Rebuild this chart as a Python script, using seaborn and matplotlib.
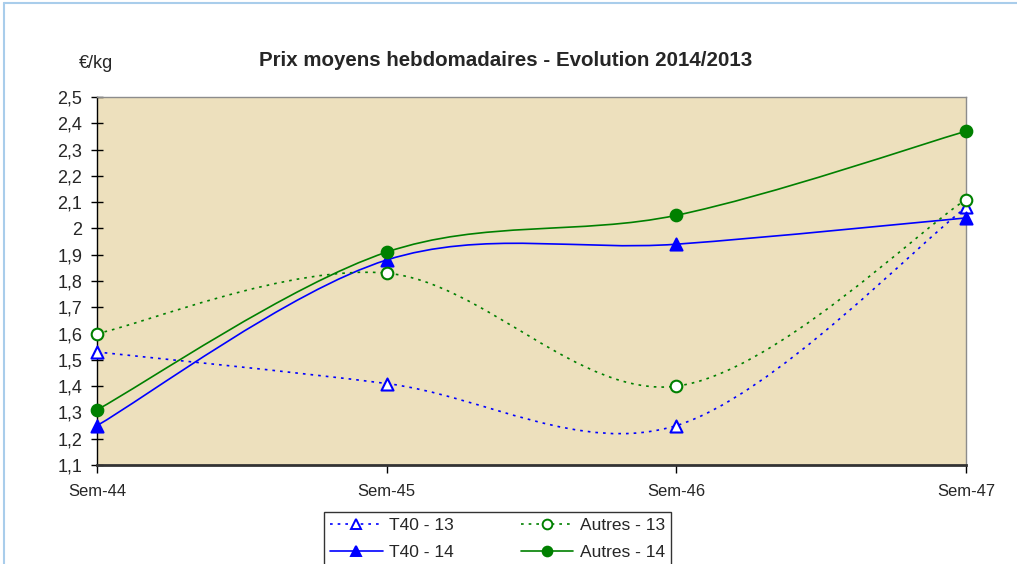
import numpy as np
import matplotlib
matplotlib.use("Agg")
import matplotlib.pyplot as plt
from matplotlib.path import Path
from matplotlib.patches import PathPatch
from matplotlib.lines import Line2D
from matplotlib.ticker import FuncFormatter, MultipleLocator
import seaborn as sns

# ─────────────────────────────────────────────
# Data
# ─────────────────────────────────────────────
weeks = ["Sem-44", "Sem-45", "Sem-46", "Sem-47"]
t40_13 = [1.53, 1.41, 1.25, 2.08]
autres_13 = [1.60, 1.83, 1.40, 2.11]
t40_14 = [1.25, 1.88, 1.94, 2.04]
autres_14 = [1.31, 1.91, 2.05, 2.37]

series = [
    ("T40 - 13", t40_13, "#0000FF", (0, (1.6, 3.0)), "^", False),
    ("T40 - 14", t40_14, "#0000FF", "-", "^", True),
    ("Autres - 13", autres_13, "#008000", (0, (1.6, 3.0)), "o", False),
    ("Autres - 14", autres_14, "#008000", "-", "o", True),
]


def smooth_path(xs, ys):
    """Excel-like smoothed line: cubic Bezier segments (Catmull-Rom, 1/6)."""
    pts = np.column_stack([xs, ys]).astype(float)
    n = len(pts)
    verts = [pts[0]]
    codes = [Path.MOVETO]
    for i in range(n - 1):
        p_prev = pts[i - 1] if i > 0 else pts[i]
        p_next2 = pts[i + 2] if i + 2 < n else pts[i + 1]
        c1 = pts[i] + (pts[i + 1] - p_prev) / 6.0
        c2 = pts[i + 1] - (p_next2 - pts[i]) / 6.0
        verts += [c1, c2, pts[i + 1]]
        codes += [Path.CURVE4] * 3
    return Path(verts, codes)


sns.set_theme(style="white")
plt.rcParams["font.family"] = ["Liberation Sans", "DejaVu Sans"]

fig = plt.figure(figsize=(10.17, 5.64), dpi=100)
ax = fig.add_axes([0.0954, 0.1755, 0.8545, 0.6525])
ax.set_facecolor("#EDE0BD")

x = np.arange(len(weeks))
for name, vals, color, ls, marker, filled in series:
    patch = PathPatch(smooth_path(x, vals), fill=False, edgecolor=color,
                      linewidth=1.2, linestyle=ls, zorder=3)
    ax.add_patch(patch)
    sns.scatterplot(x=x, y=vals, marker=marker, s=75 if marker == "^" else 70,
                    color=color if filled else "white", edgecolor=color,
                    linewidth=1.5, ax=ax, zorder=4, clip_on=False, legend=False)

ax.set_xlim(0, 3)
ax.set_ylim(1.1, 2.5)
ax.set_xticks(x)
ax.set_xticklabels(weeks)
ax.yaxis.set_major_locator(MultipleLocator(0.1))
ax.yaxis.set_major_formatter(FuncFormatter(lambda v, _: f"{round(v, 1):g}".replace(".", ",")))
ax.tick_params(axis="y", direction="inout", length=9, width=1, color="black",
               labelsize=13, pad=6, left=True)
ax.tick_params(axis="x", direction="out", length=6, width=1, color="black",
               labelsize=12, pad=8, bottom=True)
ax.set_xlabel("")
ax.set_ylabel("")
ax.grid(False)

for side in ["top", "right"]:
    ax.spines[side].set_color("#8C8C8C")
    ax.spines[side].set_linewidth(1.0)
ax.spines["left"].set_color("black")
ax.spines["left"].set_linewidth(1.0)
ax.spines["bottom"].set_color("#333333")
ax.spines["bottom"].set_linewidth(2.0)

fig.text(0.497, 0.893, "Prix moyens hebdomadaires - Evolution 2014/2013",
         ha="center", va="center", fontsize=14.8, fontweight="bold")
fig.text(0.094, 0.888, "€/kg", ha="center", va="center", fontsize=13)

handles = [
    Line2D([], [], color=c, linestyle=ls, linewidth=1.2, marker=m, markersize=7,
           markerfacecolor=c if f else "white", markeredgecolor=c, markeredgewidth=1.4,
           label=name)
    for name, _, c, ls, m, f in series
]
leg = fig.legend(handles=handles, loc="upper center", bbox_to_anchor=(0.489, 0.108),
                 ncol=2, fontsize=12.5, frameon=True, fancybox=False, shadow=False,
                 handlelength=3.05, columnspacing=3.85, labelspacing=0.7,
                 borderpad=0.35, handletextpad=0.35)
leg.get_frame().set_edgecolor("black")
leg.get_frame().set_linewidth(1.0)

# light blue outer frame of the chart area
fig.add_artist(Line2D([0.004, 0.004], [0, 0.995], transform=fig.transFigure,
                      color="#A9CDEB", linewidth=1.5))
fig.add_artist(Line2D([0.004, 1.0], [0.995, 0.995], transform=fig.transFigure,
                      color="#A9CDEB", linewidth=1.5))

fig.savefig("out.png", dpi=100, facecolor="white")
